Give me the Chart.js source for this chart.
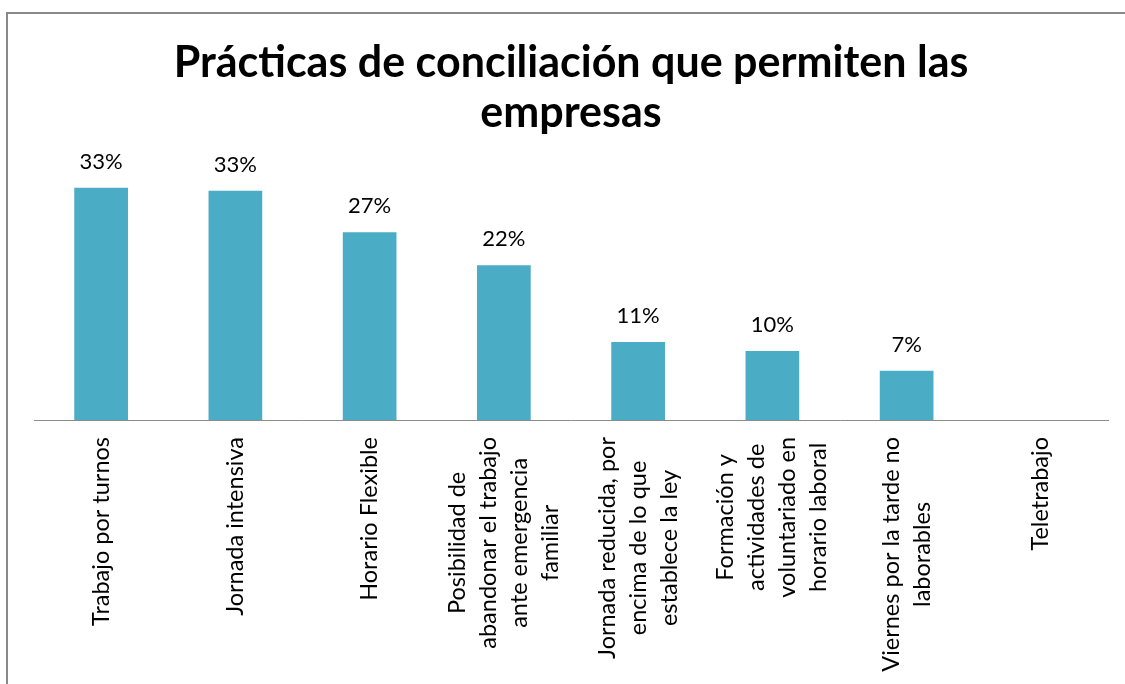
<!DOCTYPE html>
<html>
<head>
<meta charset="utf-8">
<script src="https://cdn.jsdelivr.net/npm/chart.js@4.4.1/dist/chart.umd.min.js"></script>
<style>
    html, body { margin: 0; padding: 0; background: #fff; overflow: hidden; }
    #wrap { position: relative; width: 1125px; height: 684px; }
    #frame {
        position: absolute; left: 6px; top: 12px; width: 1300px; height: 900px;
        border: 2px solid #898989; pointer-events: none;
    }
</style>
</head>
<body>
<div id="wrap">
    <canvas id="practicas" width="1125" height="684"></canvas>
    <div id="frame"></div>
</div>
<script>
const categories = [
    ['Trabajo por turnos'],
    ['Jornada intensiva'],
    ['Horario Flexible'],
    ['Posibilidad de', 'abandonar el trabajo', 'ante emergencia', 'familiar'],
    ['Jornada reducida, por', 'encima de lo que', 'establece la ley'],
    ['Formación y', 'actividades de', 'voluntariado en', 'horario laboral'],
    ['Viernes por la tarde no', 'laborables'],
    ['Teletrabajo']
];
const values = [33, 32.6, 26.7, 22, 11.1, 9.8, 7, 0];
const titleLines = ['Prácticas de conciliación que permiten las', 'empresas'];

const FONT = 'Lato, "Open Sans", sans-serif';

// category names under the axis, rotated, lines centred like the original
const categoryLabels = {
    id: 'categoryLabels',
    afterDraw(chart) {
        const ctx = chart.ctx;
        const x = chart.scales.x;
        const top = chart.chartArea.bottom + 17;
        const lh = 31;
        ctx.save();
        ctx.font = '23.5px ' + FONT;
        ctx.fillStyle = '#000';
        ctx.textAlign = 'center';
        ctx.textBaseline = 'middle';
        categories.forEach((lines, i) => {
            const cx = x.getPixelForValue(i);
            const maxW = Math.max(...lines.map(l => ctx.measureText(l).width));
            const cy = top + maxW / 2;
            lines.forEach((line, j) => {
                ctx.save();
                ctx.translate(cx + (j - (lines.length - 1) / 2) * lh, cy);
                ctx.rotate(-Math.PI / 2);
                ctx.fillText(line, 0, 0);
                ctx.restore();
            });
        });
        ctx.restore();
    }
};

// percentage labels above bars
const valueLabels = {
    id: 'valueLabels',
    afterDatasetsDraw(chart) {
        const ctx = chart.ctx;
        const meta = chart.getDatasetMeta(0);
        ctx.save();
        ctx.font = '22px ' + FONT;
        ctx.fillStyle = '#000';
        ctx.textAlign = 'center';
        ctx.textBaseline = 'alphabetic';
        meta.data.forEach((bar, i) => {
            if (!values[i]) return;
            ctx.fillText(Math.round(values[i]) + '%', bar.x, bar.y - 19);
        });
        ctx.restore();
    }
};

new Chart(document.getElementById('practicas'), {
    type: 'bar',
    data: {
        labels: categories,
        datasets: [{
            data: values,
            backgroundColor: '#4BACC6',
            barPercentage: 0.4,
            categoryPercentage: 1
        }]
    },
    plugins: [categoryLabels, valueLabels],
    options: {
        responsive: false,
        animation: false,
        layout: { padding: { left: 34, right: 17, top: 0, bottom: 264 } },
        plugins: {
            legend: { display: false },
            tooltip: { enabled: false },
            title: {
                display: true,
                text: titleLines,
                color: '#000',
                font: { family: FONT, size: 43, weight: 'bold', lineHeight: 1.17 },
                padding: { top: 38, bottom: 0 }
            }
        },
        scales: {
            x: {
                grid: { display: false, drawTicks: false },
                border: { display: true, color: '#8c8c8c', width: 1 },
                ticks: { display: false }
            },
            y: {
                display: false,
                min: 0,
                max: 40
            }
        }
    }
});
</script>
</body>
</html>
